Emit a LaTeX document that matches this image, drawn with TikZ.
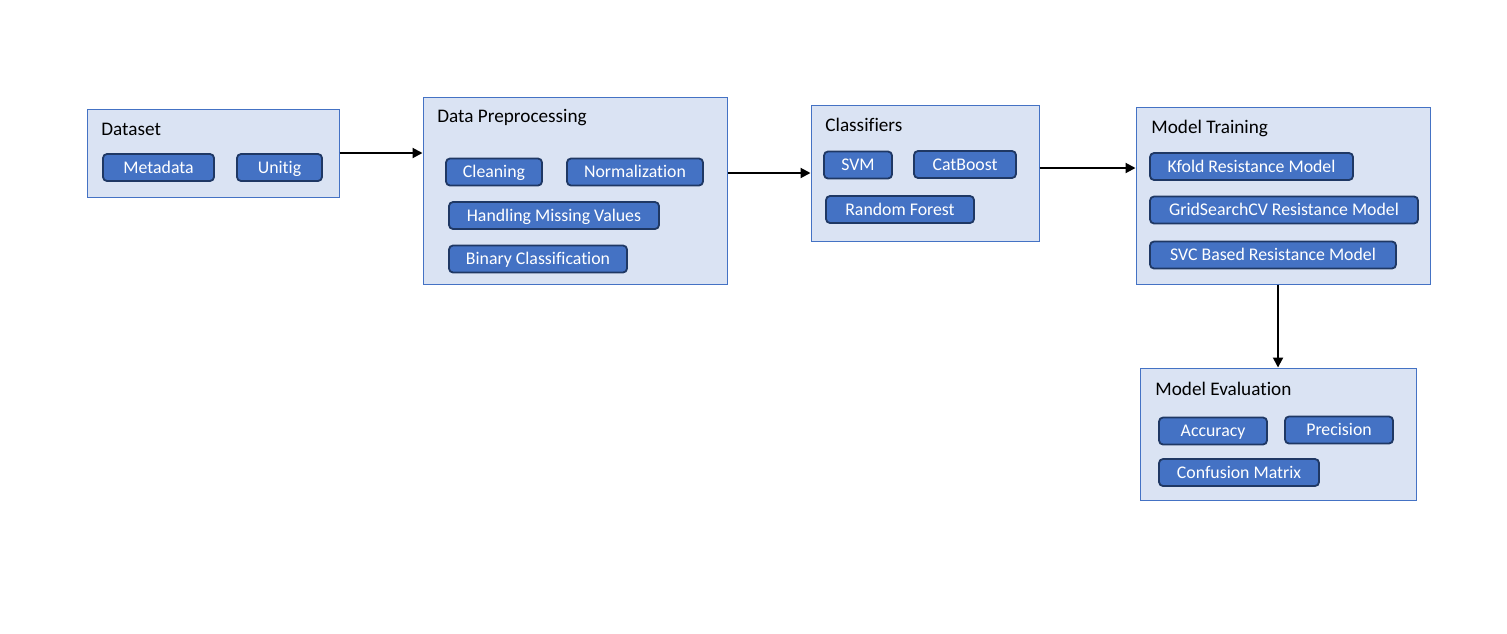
\documentclass[tikz,border=0pt]{standalone}
\usepackage{fontspec}
\setmainfont{Carlito}[Ligatures=NoCommon]
\usepackage{tikz}
\usetikzlibrary{arrows.meta}
\usetikzlibrary{positioning}
\definecolor{panelfill}{HTML}{DAE3F3}
\definecolor{panelline}{HTML}{4472C4}
\definecolor{itemfill}{HTML}{4472C4}
\definecolor{itemline}{HTML}{1F3864}
\tikzset{
    panel/.style={
           draw=panelline,
           fill=panelfill,
           line width=0.5pt,
           inner sep=0pt,
           },
}
\tikzset{
    title/.style={
           anchor=west,
           inner sep=0pt,
           font=\fontsize{9.6}{11}\selectfont,
           },
}
\tikzset{
    item/.style={
           draw=itemline,
           fill=itemfill,
           line width=0.9pt,
           rounded corners=2pt,
           text=white,
           inner sep=0pt,
           text height=5.7pt,
           text depth=0pt,
           minimum height=13.5pt,
           font=\fontsize{8.9}{10}\selectfont,
           },
}
\tikzset{
    arr/.style={
           -{Triangle[length=5pt,width=5pt]},
           line width=1pt,
           },
}

\begin{document}
\begin{tikzpicture}[x=0.5pt,y=-0.5pt]
\useasboundingbox (0,0) rectangle (1507,633);
% panels
\node[panel,minimum width=126pt,minimum height=44pt](data) at (213,153){};
\node[panel,minimum width=152pt,minimum height=93.5pt](prep) at (575,190.5){};
\node[panel,minimum width=114pt,minimum height=68pt](cls) at (925,173){};
\node[panel,minimum width=147pt,minimum height=88.5pt](train) at (1283,195.5){};
\node[panel,minimum width=138pt,minimum height=66pt](eval) at (1278,434){};
% titles
\node[title](datat) at (101,129){Dataset};
\node[title](prept) at (437,118){Data Preprocessing};
\node[title](clst) at (825,125){Classifiers};
\node[title](traint) at (1151,128){Model Training};
\node[title](evalt) at (1155,389){Model Evaluation};
% items
\node[item,minimum width=55.5pt](meta) at (158.5,167.5){Metadata};
\node[item,minimum width=42.5pt](unitig) at (279.5,167.5){Unitig};
\node[item,minimum width=48pt](clean) at (494,172){Cleaning};
\node[item,minimum width=68pt](norm) at (635,172){Normalization};
\node[item,minimum width=105pt](miss) at (554,215.5){Handling Missing Values};
\node[item,minimum width=89pt](bin) at (538,259){Binary Classification};
\node[item,minimum width=34pt](svm) at (858,165){SVM};
\node[item,minimum width=51pt](cat) at (965,164.5){CatBoost};
\node[item,minimum width=74pt](rf) at (900,209.5){Random Forest};
\node[item,minimum width=101.5pt](kfold) at (1251.5,166.5){Kfold Resistance Model};
\node[item,minimum width=134pt](grid) at (1284,210){GridSearchCV Resistance Model};
\node[item,minimum width=123pt](svc) at (1273,255){SVC Based Resistance Model};
\node[item,minimum width=54pt](acc) at (1213,431){Accuracy};
\node[item,minimum width=54pt](prec) at (1339,430){Precision};
\node[item,minimum width=80pt](conf) at (1239,472.5){Confusion Matrix};
% flow
\draw[arr] (data.east) -- (data.east -| prep.west);
\draw[arr] (cls.west -| prep.east) -- (cls.west);
\draw[arr] ([yshift=2.5pt]cls.east) -- ([yshift=2.5pt]cls.east -| train.west);
\draw[arr] (eval.north |- train.south) -- (eval.north);
\end{tikzpicture}
\end{document}
